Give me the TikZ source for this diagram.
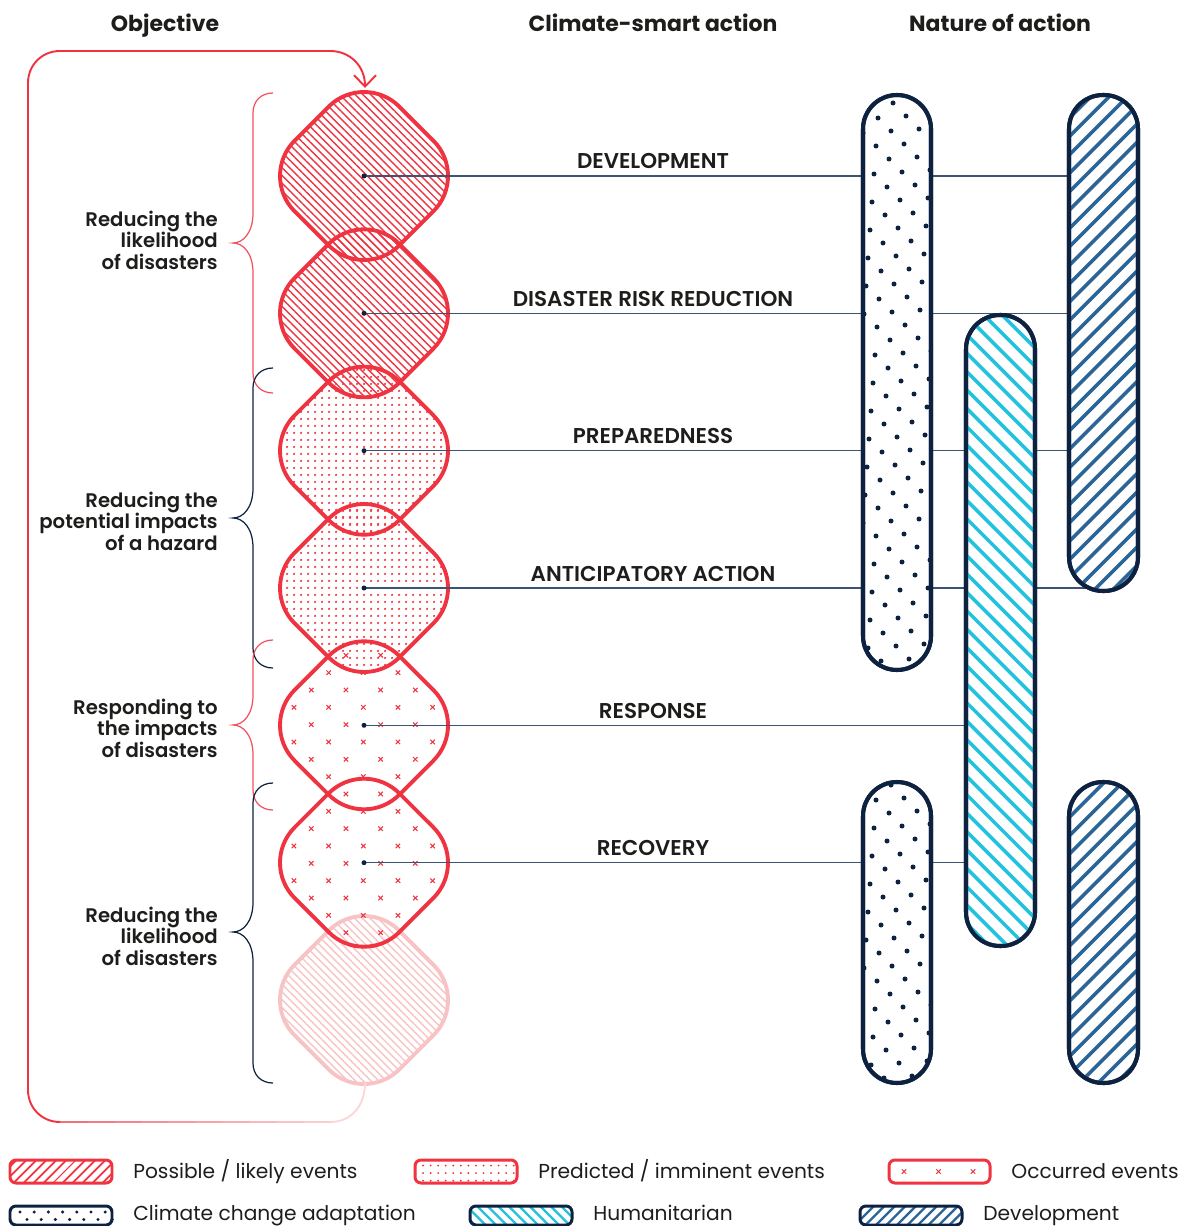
\documentclass[tikz,border=0pt]{standalone}
\usepackage{fontspec}
\setmainfont{Poppins}
\newfontfamily\semifont{Poppins SemiBold}
\usetikzlibrary{arrows.meta,positioning,calc,patterns.meta}
\definecolor{eventred}{HTML}{EF3340}
\definecolor{paleevent}{HTML}{F8C3C5}
\definecolor{navy}{HTML}{0D2240}
\definecolor{linkgray}{HTML}{3D5372}
\definecolor{humcyan}{HTML}{22C2DE}
\definecolor{devblue}{HTML}{2B6597}
\definecolor{inkblack}{HTML}{1D1D1B}

% rounded diamond around a centre height
\newcommand{\riskpath}[1]{(328.64,#1-69.36) arc[start angle=225,end angle=315,radius=50]
  -- (433.36,#1-35.36) arc[start angle=-45,end angle=45,radius=50]
  -- (399.36,#1+69.36) arc[start angle=45,end angle=135,radius=50]
  -- (294.64,#1+35.36) arc[start angle=135,end angle=225,radius=50] -- cycle}
\newcommand{\xmark}[2]{\draw[eventred, line width=0.6pt] (#1-2.2,#2-2.2) -- (#1+2.2,#2+2.2) (#1-2.2,#2+2.2) -- (#1+2.2,#2-2.2);}
\newcommand{\ccadots}[4]{%
  \foreach \a in {#3,...,#4} \foreach \b in {-2,...,3} {
    \fill[navy] (#1-2*\a+28*\b, #2+28*\a-2*\b) circle (2.5);
    \fill[navy] (#1+13-2*\a+28*\b, #2+13+28*\a-2*\b) circle (2.5);
  }}
\newcommand{\objbrace}[4]{%
  \draw[#1, line width=0.7pt] (273,#2) .. controls (261,#2) and (253,#2+8) .. (253,#2+20)
    -- (253,#3-30) .. controls (253,#3-10) and (243,#3) .. (233,#3)
    .. controls (243,#3) and (253,#3+10) .. (253,#3+30)
    -- (253,#4-20) .. controls (253,#4-8) and (261,#4) .. (273,#4);}

\begin{document}
\begin{tikzpicture}[x=0.02cm, y=-0.02cm,
    riskedge/.style={draw=eventred, line width=2.2pt},
    possible/.style={pattern={Lines[angle=-45,distance=3.1pt,line width=0.8pt]}, pattern color=eventred},
    predicted/.style={pattern={Dots[distance=4pt,radius=0.8pt]}, pattern color=eventred},
    bar/.style={draw=navy, line width=2.3pt, rounded corners=0.68cm},
    barclip/.style={rounded corners=0.68cm},
    humline/.style={humcyan, line width=2pt},
    devline/.style={devblue, line width=2pt},
    linkline/.style={linkgray, line width=0.7pt},
    heading/.style={font=\bfseries\fontsize{12.5}{14}\selectfont, text=inkblack, anchor=base},
    actlabel/.style={font=\semifont\fontsize{12.2}{14}\selectfont, text=inkblack, anchor=base},
    objlabel/.style={font=\semifont\fontsize{11.2}{12.2}\selectfont, text=inkblack, align=right, anchor=east, inner sep=0pt},
    legendtext/.style={font=\fontsize{11.5}{13}\selectfont, text=inkblack, anchor=base west, inner sep=0pt},
    swatchclip/.style={rounded corners=0.12cm},
    swatch/.style={swatchclip, line width=1.7pt}]
  \useasboundingbox (0,0) rectangle (1181,1226);

  % diamond centres
  \foreach \cy [count=\i] in {176,313.3,450.7,588,725.3,862.7,1000}
    \coordinate (c\i) at (364,\cy);
  \coordinate (dev1) at (1103,343);
  \coordinate (hum) at (1000,630);

  % faded next cycle
  \fill[pattern={Lines[angle=-45,distance=3.1pt,line width=0.8pt]}, pattern color=paleevent] \riskpath{1000};
  \draw[draw=paleevent, line width=2.2pt] \riskpath{1000};

  % events
  \fill[possible] \riskpath{176};
  \fill[possible] \riskpath{313.3};
  \fill[predicted] \riskpath{450.7};
  \fill[predicted] \riskpath{588};
  \begin{scope}
    \clip \riskpath{725.3} \riskpath{862.7};
    \foreach \i in {-3,...,3} \foreach \j in {-3,...,7} {
      \xmark{363.3+34.67*\i}{707.3+34.67*\j}
      \xmark{380.63+34.67*\i}{724.63+34.67*\j}
    }
  \end{scope}
  \foreach \cy in {176,313.3,450.7,588,725.3,862.7}
    \draw[riskedge] \riskpath{\cy};

  % links to the bars
  \foreach \i in {1,...,4}
    \draw[linkline] (c\i) -- (c\i -| dev1);
  \foreach \i in {5,6}
    \draw[linkline] (c\i) -- (c\i -| hum);
  \foreach \i in {1,...,6}
    \fill[navy] (c\i) circle (2.5);

  \foreach \t [count=\i] in {DEVELOPMENT,DISASTER RISK REDUCTION,PREPAREDNESS,ANTICIPATORY ACTION,RESPONSE,RECOVERY}
    \node[actlabel] (act\i) at ($(c\i)+(289,-7)$) {\t};

  % climate change adaptation
  \draw[bar, fill=white] (863,95) rectangle (931,670);
  \begin{scope}
    \clip[barclip] (863,95) rectangle (931,670);
    \ccadots{876}{146}{-3}{20}
  \end{scope}
  \draw[bar] (863,95) rectangle (931,670);
  \draw[bar, fill=white] (863,782) rectangle (931,1083);
  \begin{scope}
    \clip[barclip] (863,782) rectangle (931,1083);
    \ccadots{876}{800}{-2}{12}
  \end{scope}
  \draw[bar] (863,782) rectangle (931,1083);

  % humanitarian
  \draw[bar, fill=white] (966,315) rectangle (1035,946);
  \begin{scope}
    \clip[barclip] (966,315) rectangle (1035,946);
    \foreach \k in {0,...,39}
      \draw[humline] (966,242+18.4*\k) -- ++(70,70);
  \end{scope}
  \draw[bar] (966,315) rectangle (1035,946);

  % development
  \draw[bar, fill=white] (1069,95) rectangle (1138,591);
  \draw[bar, fill=white] (1069,782) rectangle (1138,1083);
  \begin{scope}
    \clip[barclip] (1069,95) rectangle (1138,591) (1069,782) rectangle (1138,1083);
    \foreach \k in {0,...,58}
      \draw[devline] (1069,100+18.4*\k) -- ++(70,-70);
  \end{scope}
  \draw[bar] (1069,95) rectangle (1138,591);
  \draw[bar] (1069,782) rectangle (1138,1083);

  % braces
  \objbrace{eventred!85}{93}{243}{393}
  \objbrace{navy}{368}{518}{668}
  \objbrace{eventred!85}{640}{725}{810}
  \objbrace{navy}{783}{932}{1083}

  \node[objlabel] (obj1) at (218,240) {Reducing the\\likelihood\\of disasters};
  \node[objlabel] (obj2) at (218,521) {Reducing the\\potential impacts\\of a hazard};
  \node[objlabel] (obj3) at (218,728) {Responding to\\the impacts\\of disasters};
  \node[objlabel] (obj4) at (218,936) {Reducing the\\likelihood\\of disasters};

  % cycle arrow
  \draw[eventred!20, line width=1.1pt, line cap=round] (365,1083) .. controls (365,1105) and (352,1122) .. (330,1122);
  \foreach \k [evaluate=\k as \pct using 25+5*\k] in {0,...,9}
    \draw[eventred!\pct, line width=1.1pt, line cap=round] (330-27*\k,1122) -- (303-27*\k,1122);
  \draw[eventred, line width=1.1pt, -{Straight Barb[length=6.5pt,width=12.5pt]}]
    (60,1122) .. controls (42,1122) and (28,1108) .. (28,1090) -- (28,83)
    .. controls (28,65) and (42,51) .. (60,51) -- (330,51)
    .. controls (350,51) and (365,66) .. (365,88);

  % headings
  \node[heading] (objtitle) at (165,32) {Objective};
  \node[heading] (acttitle) at (653,32) {Climate-smart action};
  \node[heading] (naturetitle) at (1000,32) {Nature of action};

  % legend
  \draw[swatch, draw=eventred, pattern={Lines[angle=45,distance=4pt,line width=1.1pt]}, pattern color=eventred] (10,1160) rectangle (112,1183);
  \node[legendtext] (lgpossible) at (133,1178) {Possible / likely events};
  \draw[swatch, draw=eventred, pattern={Dots[distance=4.3pt,radius=0.6pt]}, pattern color=eventred] (415,1160) rectangle (517,1183);
  \node[legendtext] (lgpredicted) at (538,1178) {Predicted / imminent events};
  \draw[swatch, draw=eventred] (889,1160) rectangle (990,1183);
  \xmark{904}{1171.5} \xmark{938.5}{1171.5} \xmark{973}{1171.5}
  \node[legendtext] (lgoccurred) at (1011,1178) {Occurred events};

  \draw[swatch, draw=navy] (10,1206) rectangle (112,1225);
  \foreach \x in {0,...,6} {
    \fill[navy] (20+14.2*\x,1212) circle (1.7);
    \fill[navy] (27+14.2*\x,1219.5) circle (1.7);
  }
  \node[legendtext] (lgcca) at (133,1220) {Climate change adaptation};
  \begin{scope}
    \clip[swatchclip] (470,1206) rectangle (572,1225);
    \foreach \k in {0,...,11}
      \draw[humcyan, line width=1.3pt] (450+10.5*\k,1200) -- ++(30,30);
  \end{scope}
  \draw[swatch, draw=navy] (470,1206) rectangle (572,1225);
  \node[legendtext] (lghum) at (593,1220) {Humanitarian};
  \begin{scope}
    \clip[swatchclip] (860,1206) rectangle (962,1225);
    \foreach \k in {0,...,11}
      \draw[devblue, line width=1.3pt] (850+10.5*\k,1230) -- ++(30,-30);
  \end{scope}
  \draw[swatch, draw=navy] (860,1206) rectangle (962,1225);
  \node[legendtext] (lgdev) at (983,1220) {Development};
\end{tikzpicture}
\end{document}
